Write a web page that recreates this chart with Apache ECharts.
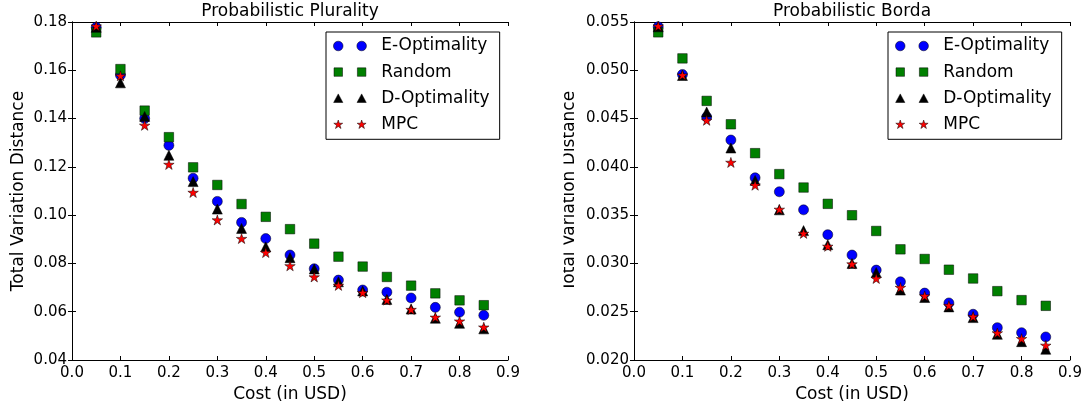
<!DOCTYPE html>
<html><head><meta charset="utf-8">
<script src="https://cdn.jsdelivr.net/npm/echarts/dist/echarts.min.js"></script>
<style>html,body{margin:0;padding:0;background:#fff}#c{width:1086px;height:408px}</style>
</head><body><div id="c"></div>
<script>
// ---------- data ----------
const costs = [0.05, 0.10, 0.15, 0.20, 0.25, 0.30, 0.35, 0.40, 0.45, 0.50, 0.55, 0.60, 0.65, 0.70, 0.75, 0.80, 0.85];
const seriesNames = ['E-Optimality', 'Random', 'D-Optimality', 'MPC'];

const pluralityE      = [0.1778, 0.1580, 0.1400, 0.1289, 0.1153, 0.1057, 0.0970, 0.0903, 0.0835, 0.0778, 0.0731, 0.0690, 0.0681, 0.0657, 0.0618, 0.0598, 0.0585];
const pluralityRandom = [0.1757, 0.1605, 0.1433, 0.1323, 0.1198, 0.1125, 0.1046, 0.0993, 0.0942, 0.0882, 0.0828, 0.0787, 0.0744, 0.0708, 0.0676, 0.0647, 0.0627];
const pluralityD      = [0.1778, 0.1548, 0.1409, 0.1248, 0.1139, 0.1025, 0.0945, 0.0869, 0.0824, 0.0777, 0.0724, 0.0686, 0.0651, 0.0611, 0.0573, 0.0552, 0.0529];
const pluralityMPC    = [0.1783, 0.1577, 0.1372, 0.1210, 0.1094, 0.0980, 0.0903, 0.0845, 0.0790, 0.0744, 0.0709, 0.0679, 0.0648, 0.0609, 0.0577, 0.0561, 0.0536];

const bordaE      = [0.05450, 0.04957, 0.04516, 0.04278, 0.03887, 0.03742, 0.03555, 0.03298, 0.03087, 0.02931, 0.02810, 0.02693, 0.02591, 0.02474, 0.02335, 0.02283, 0.02239];
const bordaRandom = [0.05393, 0.05123, 0.04683, 0.04441, 0.04142, 0.03925, 0.03786, 0.03617, 0.03499, 0.03336, 0.03146, 0.03046, 0.02935, 0.02844, 0.02713, 0.02620, 0.02561];
const bordaD      = [0.05450, 0.04946, 0.04568, 0.04195, 0.03860, 0.03555, 0.03340, 0.03194, 0.03000, 0.02906, 0.02724, 0.02647, 0.02550, 0.02439, 0.02266, 0.02190, 0.02111];
const bordaMPC    = [0.05458, 0.04950, 0.04482, 0.04046, 0.03810, 0.03560, 0.03311, 0.03177, 0.02994, 0.02844, 0.02751, 0.02664, 0.02564, 0.02450, 0.02280, 0.02221, 0.02152];

const titles = ['Probabilistic Plurality', 'Probabilistic Borda'];
const xAxisName = 'Cost (in USD)';
const yAxisName = 'Total Variation Distance';
const xRange = {min: 0.0, max: 0.9, interval: 0.1, digits: 1};
const yRangePlurality = {min: 0.04, max: 0.18, interval: 0.02, digits: 2};
const yRangeBorda = {min: 0.020, max: 0.055, interval: 0.005, digits: 3};

// ---------- styling ----------
const FONT = 'DejaVu Sans';
const colors = ['#0000ff', '#008000', '#000000', '#ff0000'];

function starPath(cx, cy, R) {
  const r = R * 0.382;
  let d = '';
  for (let k = 0; k < 10; k++) {
    const a = (-90 + k * 36) * Math.PI / 180;
    const rr = k % 2 === 0 ? R : r;
    d += (k === 0 ? 'M' : 'L') + (cx + rr * Math.cos(a)).toFixed(3) + ',' + (cy + rr * Math.sin(a)).toFixed(3);
  }
  return d + 'Z';
}
function circlePath(cx, cy, r) {
  return 'M' + (cx - r) + ',' + cy + 'a' + r + ',' + r + ' 0 1,0 ' + (2 * r) + ',0a' + r + ',' + r + ' 0 1,0 ' + (-2 * r) + ',0Z';
}
function squarePath(cx, cy, s) {
  const h = s / 2;
  return 'M' + (cx - h) + ',' + (cy - h) + 'h' + s + 'v' + s + 'h' + (-s) + 'Z';
}
function triPath(cx, cy, w, h) {
  return 'M' + cx + ',' + (cy - h / 2) + 'L' + (cx + w / 2) + ',' + (cy + h / 2) + 'L' + (cx - w / 2) + ',' + (cy + h / 2) + 'Z';
}
// legend icons: two markers, inside a 43x10 box
const LW = 43, LH = 10, m1 = 5, m2 = 28.4;
const bounds = 'M0,0M' + LW + ',' + LH;
const legendIcons = [
  'path://' + bounds + circlePath(m1, 5, 4.8) + circlePath(m2, 5, 4.8),
  'path://' + bounds + squarePath(m1, 5, 8.5) + squarePath(m2, 5, 8.5),
  'path://' + bounds + triPath(m1, 5, 9.2, 8.6) + triPath(m2, 5, 9.2, 8.6),
  'path://' + bounds + starPath(m1, 5.4, 4.7) + starPath(m2, 5.4, 4.7)
];
const seriesSymbols = ['circle', 'rect', 'triangle', 'path://' + starPath(0, 0, 5)];
const seriesSizes = [10, 9.5, 10, [10.5, 10]];

const grids = [
  {left: 72, top: 22, width: 436, height: 338},
  {left: 634, top: 22, width: 436, height: 338}
];

function fmt(d) { return v => Number(v).toFixed(d); }

function xAxes(gi) {
  const common = {
    type: 'value', gridIndex: gi, min: xRange.min, max: xRange.max, interval: xRange.interval,
    splitLine: {show: false},
    axisLine: {show: true, lineStyle: {color: '#000', width: 1}},
    axisTick: {show: true, inside: true, length: 4, lineStyle: {color: '#000'}}
  };
  return [
    Object.assign({}, common, {
      position: 'bottom',
      name: xAxisName, nameLocation: 'middle', nameGap: 25,
      nameTextStyle: {fontFamily: FONT, fontSize: 17, color: '#000'},
      axisLabel: {show: true, margin: 6, fontFamily: FONT, fontSize: 15, color: '#000', formatter: fmt(xRange.digits)}
    }),
    Object.assign({}, common, {position: 'top', axisLabel: {show: false}})
  ];
}
function yAxes(gi, rg, gap) {
  const common = {
    type: 'value', gridIndex: gi, min: rg.min, max: rg.max, interval: rg.interval,
    splitLine: {show: false},
    axisLine: {show: true, lineStyle: {color: '#000', width: 1}},
    axisTick: {show: true, inside: true, length: 4, lineStyle: {color: '#000'}}
  };
  return [
    Object.assign({}, common, {
      position: 'left',
      name: yAxisName, nameLocation: 'middle', nameGap: gap,
      nameTextStyle: {fontFamily: FONT, fontSize: 17, color: '#000'},
      axisLabel: {show: true, margin: 5, fontFamily: FONT, fontSize: 15, color: '#000', formatter: fmt(rg.digits)}
    }),
    Object.assign({}, common, {position: 'right', axisLabel: {show: false}})
  ];
}

function makeSeries(gi, arrays) {
  return arrays.map((arr, k) => ({
    name: seriesNames[k], type: 'scatter',
    xAxisIndex: gi * 2, yAxisIndex: gi * 2,
    symbol: seriesSymbols[k], symbolSize: seriesSizes[k],
    itemStyle: {color: colors[k], borderColor: '#000', borderWidth: 0.5, opacity: 1},
    emphasis: {disabled: true},
    data: costs.map((c, i) => [c, arr[i]])
  }));
}

function makeLegend(left) {
  return {
    orient: 'vertical', left: left, top: 32,
    data: seriesNames.map((n, k) => ({
      name: n, icon: legendIcons[k],
      itemStyle: {color: colors[k], borderColor: '#000', borderWidth: 0.5, opacity: 1}
    })),
    itemWidth: LW, itemHeight: LH, itemGap: 6.1,
    padding: [4, 10, 5, 7],
    borderColor: '#000', borderWidth: 1, backgroundColor: '#fff',
    selectedMode: false,
    textStyle: {fontFamily: FONT, fontSize: 17, color: '#000', lineHeight: 20}
  };
}

const option = {
  animation: false,
  backgroundColor: '#fff',
  title: titles.map((t, i) => ({
    text: t, left: grids[i].left + grids[i].width / 2, top: 3, textAlign: 'center',
    padding: 0,
    textStyle: {fontFamily: FONT, fontSize: 17, fontWeight: 'normal', color: '#000'}
  })),
  grid: grids,
  xAxis: [...xAxes(0), ...xAxes(1)],
  yAxis: [...yAxes(0, yRangePlurality, 45), ...yAxes(1, yRangeBorda, 56)],
  legend: [makeLegend(326), makeLegend(888)],
  series: [
    ...makeSeries(0, [pluralityE, pluralityRandom, pluralityD, pluralityMPC]),
    ...makeSeries(1, [bordaE, bordaRandom, bordaD, bordaMPC])
  ],
  graphic: [{
    type: 'rect', z: 1000, silent: true,
    shape: {x: 530, y: 0, width: 33.5, height: 408},
    style: {fill: '#fff'}
  }]
};
const chart = echarts.init(document.getElementById('c'), null, {renderer: 'canvas'});
chart.setOption(option);
</script>
</body></html>
